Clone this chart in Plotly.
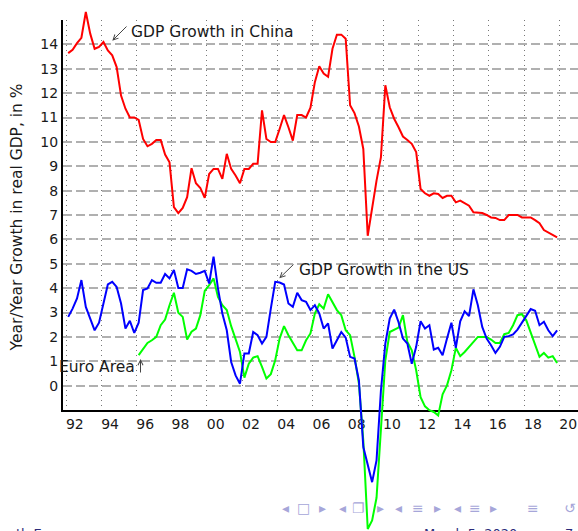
import plotly.graph_objects as go

# ---------------- data (quarterly, year-over-year real GDP growth, %) ----------------
years = list(range(1992, 2020))          # 1992Q1 .. 2019Q4
euro_start_year = 1996                    # euro series starts 1996Q1

china = [
    13.64, 13.78, 14.05, 14.27,   # 1992
    15.33, 14.44, 13.82, 13.90,   # 1993
    14.10, 13.75, 13.55, 13.07,   # 1994
    11.90, 11.36, 11.00, 11.00,   # 1995
    10.90, 10.12, 9.82, 9.92,     # 1996
    10.08, 10.08, 9.48, 9.16,     # 1997
    7.32, 7.08, 7.29, 7.73,       # 1998
    8.92, 8.30, 8.11, 7.70,       # 1999
    8.68, 8.89, 8.89, 8.48,       # 2000
    9.51, 8.89, 8.62, 8.30,       # 2001
    8.89, 8.89, 9.10, 9.10,       # 2002
    11.29, 10.12, 9.99, 9.99,     # 2003
    10.53, 11.10, 10.60, 10.05,   # 2004
    11.10, 11.10, 11.00, 11.40,   # 2005
    12.45, 13.10, 12.80, 12.67,   # 2006
    13.82, 14.40, 14.40, 14.23,   # 2007
    11.50, 11.18, 10.63, 9.71,    # 2008
    6.15, 7.38, 8.41, 9.37,       # 2009
    12.32, 11.42, 10.95, 10.60,   # 2010
    10.22, 10.08, 9.92, 9.58,     # 2011
    8.07, 7.89, 7.79, 7.89,       # 2012
    7.86, 7.70, 7.79, 7.79,       # 2013
    7.52, 7.59, 7.49, 7.38,       # 2014
    7.11, 7.11, 7.08, 7.00,       # 2015
    6.90, 6.88, 6.79, 6.79,       # 2016
    7.00, 7.00, 7.00, 6.90,       # 2017
    6.90, 6.90, 6.79, 6.66,       # 2018
    6.38, 6.29, 6.19, 6.08,       # 2019
]

us = [
    2.82, 3.16, 3.58, 4.33,       # 1992
    3.23, 2.75, 2.27, 2.58,       # 1993
    3.37, 4.15, 4.26, 4.05,       # 1994
    3.37, 2.34, 2.66, 2.16,       # 1995
    2.58, 3.92, 3.99, 4.33,       # 1996
    4.22, 4.22, 4.58, 4.40,       # 1997
    4.74, 4.01, 4.01, 4.77,       # 1998
    4.71, 4.58, 4.63, 4.71,       # 1999
    4.19, 5.29, 3.99, 2.96,       # 2000
    2.27, 0.97, 0.42, 0.08,       # 2001
    1.32, 1.32, 2.20, 2.07,       # 2002
    1.73, 2.00, 3.16, 4.26,       # 2003
    4.23, 4.15, 3.37, 3.23,       # 2004
    3.81, 3.51, 3.44, 3.10,       # 2005
    3.30, 2.96, 2.34, 2.55,       # 2006
    1.52, 1.86, 2.20, 1.97,       # 2007
    1.18, 1.11, 0.22, -2.52,      # 2008
    -3.21, -3.96, -3.07, -0.20,   # 2009
    1.73, 2.75, 3.12, 2.60,       # 2010
    1.93, 1.73, 0.90, 1.59,       # 2011
    2.64, 2.34, 2.48, 1.48,       # 2012
    1.55, 1.25, 1.93, 2.58,       # 2013
    1.55, 2.64, 3.05, 2.85,       # 2014
    3.95, 3.30, 2.41, 1.93,       # 2015
    1.66, 1.34, 1.59, 2.00,       # 2016
    2.03, 2.10, 2.30, 2.58,       # 2017
    2.82, 3.14, 3.07, 2.48,       # 2018
    2.62, 2.27, 2.03, 2.27,       # 2019
]

euro = [
    1.25, 1.52, 1.75, 1.86,       # 1996
    2.00, 2.48, 2.71, 3.30,       # 1997
    3.81, 2.99, 2.82, 1.89,       # 1998
    2.21, 2.34, 2.89, 3.89,       # 1999
    4.12, 4.40, 3.64, 3.30,       # 2000
    3.10, 2.44, 1.93, 1.38,       # 2001
    0.33, 0.90, 1.15, 1.21,       # 2002
    0.77, 0.29, 0.47, 1.04,       # 2003
    1.93, 2.44, 2.07, 1.73,       # 2004
    1.45, 1.45, 1.86, 2.14,       # 2005
    2.96, 3.34, 3.16, 3.75,       # 2006
    3.44, 3.10, 2.89, 2.27,       # 2007
    2.07, 1.18, 0.08, -2.25,      # 2008
    -5.88, -5.53, -4.60, -2.00,   # 2009
    1.04, 2.20, 2.30, 2.38,       # 2010
    2.89, 1.79, 1.45, 0.63,       # 2011
    -0.47, -0.85, -1.01, -1.08,   # 2012
    -1.22, -0.36, 0.01, 0.63,     # 2013
    1.55, 1.21, 1.38, 1.59,       # 2014
    1.79, 2.00, 2.00, 2.00,       # 2015
    1.89, 1.75, 1.75, 2.11,       # 2016
    2.16, 2.48, 2.89, 2.93,       # 2017
    2.68, 2.20, 1.73, 1.18,       # 2018
    1.34, 1.15, 1.21, 0.93,       # 2019
]

xtick_years = list(range(1992, 2021, 2))
xtick_labels = [f"{y % 100:02d}" for y in xtick_years]
ytick_vals = list(range(0, 15))
ytick_labels = [str(v) for v in ytick_vals]

# quarter mid-points on a year axis
x_all = [y + (q + 0.5) / 4 for y in years for q in range(4)]
x_euro = [v for v in x_all if v >= euro_start_year]

# ---------------- layout constants ----------------
W, H = 578, 531
ML, MR, MT, MB = 63, 0, 0, 0
PLOT_W = W - ML - MR
PLOT_H = H - MT - MB
AXIS_TOP_PX = 20
AXIS_BOTTOM_PX = 410
X_RANGE = [1991.83, 2021.06]
Y_RANGE = [-1, 15]
px_per_unit = (AXIS_BOTTOM_PX - AXIS_TOP_PX) / (Y_RANGE[1] - Y_RANGE[0])
y_dom = [(H - MB - AXIS_BOTTOM_PX) / PLOT_H, (H - MB - AXIS_TOP_PX) / PLOT_H]
Y2_RANGE = [Y_RANGE[0] - (H - MB - AXIS_BOTTOM_PX) / px_per_unit,
            Y_RANGE[1] + (AXIS_TOP_PX - MT) / px_per_unit]

FONT = "DejaVu Sans"
TXT = "#1a1a1a"

fig = go.Figure()
line_kw = dict(mode="lines", xaxis="x2", yaxis="y2", showlegend=False, hoverinfo="skip")
fig.add_trace(go.Scatter(x=x_all, y=china, line=dict(color="#ff0000", width=2), name="China", **line_kw))
fig.add_trace(go.Scatter(x=x_euro, y=euro, line=dict(color="#00ff00", width=2), name="Euro Area", **line_kw))
fig.add_trace(go.Scatter(x=x_all, y=us, line=dict(color="#0000ff", width=2), name="US", **line_kw))

fig.update_layout(
    width=W, height=H,
    margin=dict(l=ML, r=MR, t=MT, b=MB, pad=0),
    paper_bgcolor="white", plot_bgcolor="rgba(0,0,0,0)",
    font=dict(family=FONT, size=14, color=TXT),
    xaxis=dict(
        domain=[0, 1], anchor="y", range=X_RANGE,
        tickmode="array", tickvals=[y + 0.5 for y in xtick_years], ticktext=xtick_labels,
        showgrid=False, zeroline=False, ticks="", ticklen=0,
        showline=True, linecolor="black", linewidth=2,
        tickfont=dict(size=14, color=TXT),
        minor=dict(tickmode="array", tickvals=xtick_years, showgrid=True,
                   gridcolor="#777777", gridwidth=1, griddash="1px,4px", ticks=""),
        fixedrange=True,
    ),
    yaxis=dict(
        domain=y_dom, anchor="x", range=Y_RANGE,
        tickmode="array", tickvals=ytick_vals, ticktext=ytick_labels,
        showgrid=True, gridcolor="#b0b0b0", gridwidth=2, griddash="9px,4px",
        zeroline=False, ticks="",
        showline=True, linecolor="black", linewidth=2,
        tickfont=dict(size=14, color=TXT),
        fixedrange=True,
    ),
    xaxis2=dict(domain=[0, 1], anchor="y2", range=X_RANGE, visible=False, fixedrange=True),
    yaxis2=dict(domain=[0, 1], anchor="x2", range=Y2_RANGE, visible=False, fixedrange=True),
)

def xd(px):
    return xtick_years[0] + (px - 66) / ((559.3 - 66) / (xtick_years[-1] - xtick_years[0]))

def yd(py):
    return Y_RANGE[0] + (AXIS_BOTTOM_PX - py) / px_per_unit

LBL = 15.5
ann = []
# series labels
ann.append(dict(x=xd(129), y=yd(32.5), xref="x", yref="y", text="GDP Growth in China",
                showarrow=False, xanchor="left", yanchor="middle", font=dict(size=LBL, color=TXT)))
ann.append(dict(x=xd(296.7), y=yd(270), xref="x", yref="y", text="GDP Growth in the US",
                showarrow=False, xanchor="left", yanchor="middle", font=dict(size=LBL, color=TXT)))
ann.append(dict(x=xd(137), y=yd(367), xref="x", yref="y", text="Euro Area",
                showarrow=False, xanchor="right", yanchor="middle", font=dict(size=LBL, color=TXT)))
# arrows
arrow_kw = dict(text="", showarrow=True, arrowhead=5, arrowsize=1, arrowwidth=1,
                arrowcolor="#444444", standoff=0, startstandoff=0, xref="x", yref="y")
ann.append(dict(x=xd(112.3), y=yd(40.7), ax=15.7, ay=-15.7, **arrow_kw))
ann.append(dict(x=xd(279.3), y=yd(278.3), ax=15.7, ay=-15.3, **arrow_kw))
ann.append(dict(x=xd(140.5), y=yd(359), ax=0, ay=15, **arrow_kw))

def px2paper(px, py):
    return (px - ML) / PLOT_W, (H - MB - py) / PLOT_H

# y axis title
tx, ty = px2paper(17, 217.5)
ann.append(dict(x=tx, y=ty, xref="paper", yref="paper",
                text="Year/Year Growth in real GDP, in %", textangle=-90, showarrow=False,
                xanchor="center", yanchor="middle", font=dict(size=LBL, color=TXT)))

# beamer navigation symbols and footer (partially visible)
nav = [(285, "◂"), (303, "□"), (322, "▸"), (342, "◂"), (358, "❐"), (380, "▸"),
       (398, "◂"), (418, "≡"), (437, "▸"), (457, "◂"), (475, "≡"), (493, "▸"),
       (533, "≡"), (570, "↺")]
for px, ch in nav:
    x, y = px2paper(px, 508)
    ann.append(dict(x=x, y=y, xref="paper", yref="paper", text=ch, showarrow=False,
                    xanchor="center", yanchor="middle", font=dict(size=14, color="#a6a6d9")))

footer = [(422, "March 5, 2020"), (563, "7"), (14, "th Europe")]
for px, t in footer:
    x, y = px2paper(px, 524)
    ann.append(dict(x=x, y=y, xref="paper", yref="paper", text=t, showarrow=False,
                    xanchor="left", yanchor="top", font=dict(size=13, color="#2b2b7a")))

fig.update_layout(annotations=ann)
fig.write_html("out.html", config={"displayModeBar": False},
               post_script="document.body.style.margin='0';document.body.style.overflow='hidden';")
